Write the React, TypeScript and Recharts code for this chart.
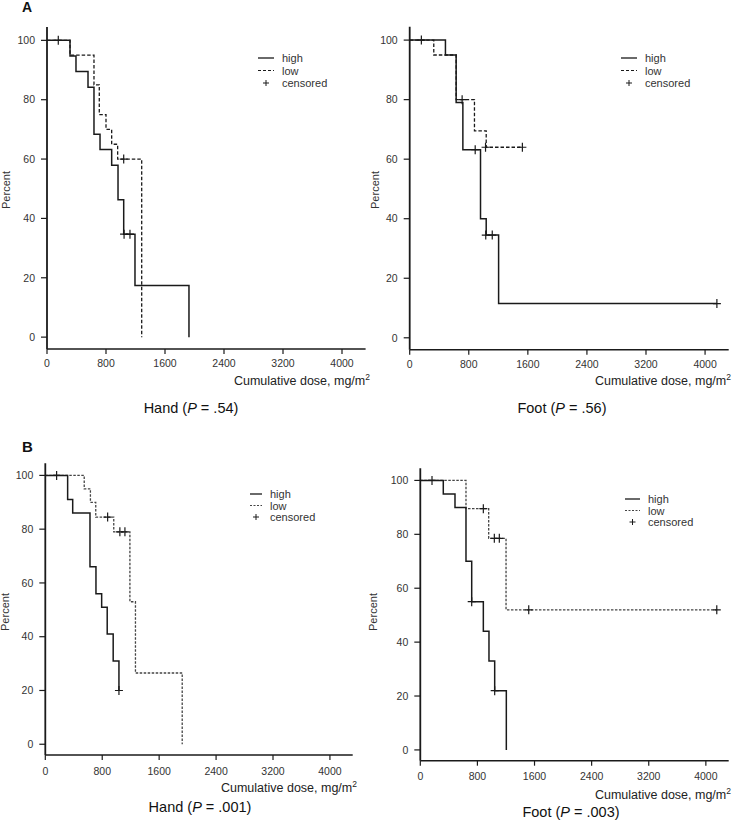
import React from "react";
import { ComposedChart, Line, Scatter, XAxis, YAxis } from "recharts";

// axis ticks shared by all four panels
const doseTicks = [0, 800, 1600, 2400, 3200, 4000];
const pctTicks = [0, 20, 40, 60, 80, 100];

// A, hand
const handAHighDose = [0, 312, 393, 556, 637, 719, 877, 963, 1040, 1193, 1925];
const handAHighPct = [100, 94.7, 89.5, 84.2, 68.4, 63.2, 57.9, 46.3, 34.7, 17.4, 0];
const handAHighCensDose = [153, 1045, 1125];
const handAHighCensPct = [100, 34.7, 34.7];
const handALowDose = [0, 312, 637, 709, 800, 877, 958, 1284];
const handALowPct = [100, 95, 85, 75, 70, 65, 60, 0];
const handALowCensDose = [1040];
const handALowCensPct = [60];

// A, foot
const footAHighDose = [0, 484, 629, 720, 959, 1036, 1204, 4160];
const footAHighPct = [100, 95, 79, 63.2, 40, 34.5, 11.5, 11.5];
const footAHighCensDose = [158, 887, 1030, 1118, 4160];
const footAHighCensPct = [100, 63.2, 34.5, 34.5, 11.5];
const footALowDose = [0, 326, 629, 877, 1036, 1526];
const footALowPct = [100, 95, 80, 69.5, 64, 64];
const footALowCensDose = [710, 1027, 1526];
const footALowCensPct = [80, 64, 64];

// B, hand
const handBHighDose = [0, 314, 385, 628, 712, 792, 870, 954, 1035];
const handBHighPct = [100, 91, 86, 66, 56, 51, 41, 31, 20];
const handBHighCensDose = [159, 1035];
const handBHighCensPct = [100, 20];
const handBLowDose = [0, 547, 634, 709, 962, 1189, 1267, 1924];
const handBLowPct = [100, 95, 90, 84.5, 79, 53, 26.5, 0];
const handBLowCensDose = [876, 1048, 1119];
const handBLowCensPct = [84.5, 79, 79];

// B, foot
const footBHighDose = [0, 322, 486, 640, 720, 883, 962, 1042, 1205];
const footBHighPct = [100, 95, 90, 70, 55, 44, 33, 22, 0];
const footBHighCensDose = [164, 720, 1042];
const footBHighCensPct = [100, 55, 22];
const footBLowDose = [0, 640, 958, 1201, 4153];
const footBLowPct = [100, 89.5, 78.5, 52, 52];
const footBLowCensDose = [883, 1037, 1107, 1519, 4153];
const footBLowCensPct = [89.5, 78.5, 78.5, 52, 52];

type Pt = { x: number; y: number };
const zip = (xs: number[], ys: number[]): Pt[] => xs.map((x, i) => ({ x, y: ys[i] }));

const INK = "#1a1a1a";
const TXT = "#333";

const Cross = (p: any) => (
  <g stroke={INK} strokeWidth={1.2}>
    <line x1={p.cx - 4} x2={p.cx + 4} y1={p.cy} y2={p.cy} />
    <line x1={p.cx} x2={p.cx} y1={p.cy - 4.5} y2={p.cy + 4.5} />
  </g>
);

type PanelProps = {
  box: [number, number, number, number];
  plot: [number, number, number, number];
  high: Pt[];
  low: Pt[];
  highCens: Pt[];
  lowCens: Pt[];
  lowColor: string;
  lowDash: string;
  tickGap: number;
};

function Panel({ box, plot, high, low, highCens, lowCens, lowColor, lowDash, tickGap }: PanelProps) {
  const [L, T, W, H] = box;
  const [px0, py0, px1, py1] = plot;
  const margin = {
    left: px0 - L - 40,
    top: py0 - T,
    right: L + W - px1,
    bottom: T + H - py1 - 30,
  };
  const tick = { fontSize: 10.5, fill: TXT, fontFamily: "Liberation Sans, Arial, sans-serif" };
  return (
    <div style={{ position: "absolute", left: L, top: T }}>
      <ComposedChart width={W} height={H} margin={margin}>
        <XAxis
          type="number"
          dataKey="x"
          domain={[0, 4320]}
          allowDataOverflow
          ticks={doseTicks}
          height={30}
          tick={tick}
          tickSize={5}
          tickMargin={tickGap}
          axisLine={{ stroke: INK, strokeWidth: 1.5 }}
          tickLine={{ stroke: INK, strokeWidth: 1.2 }}
        />
        <YAxis
          type="number"
          dataKey="y"
          domain={[-4, 104.5]}
          allowDataOverflow
          ticks={pctTicks}
          width={40}
          tick={tick}
          tickSize={6}
          tickMargin={6}
          axisLine={{ stroke: INK, strokeWidth: 1.8 }}
          tickLine={{ stroke: INK, strokeWidth: 1.2 }}
        />
        <Line
          data={low}
          type="stepAfter"
          dataKey="y"
          stroke={lowColor}
          strokeWidth={1.3}
          strokeDasharray={lowDash}
          dot={false}
          activeDot={false}
          isAnimationActive={false}
        />
        <Line
          data={high}
          type="stepAfter"
          dataKey="y"
          stroke={INK}
          strokeWidth={1.5}
          dot={false}
          activeDot={false}
          isAnimationActive={false}
        />
        <Scatter data={lowCens} shape={Cross} isAnimationActive={false} />
        <Scatter data={highCens} shape={Cross} isAnimationActive={false} />
      </ComposedChart>
    </div>
  );
}

function Key({ x, y, gap, lineLen, lowColor, lowDash }: { x: number; y: number; gap: number; lineLen: number; lowColor: string; lowDash: string }) {
  const rows = ["high", "low", "censored"];
  return (
    <div style={{ position: "absolute", left: x, top: y - 7 }}>
      <svg width={lineLen + 2} height={40} style={{ position: "absolute", left: 0, top: 0 }}>
        <line x1={0} x2={lineLen} y1={7} y2={7} stroke={INK} strokeWidth={1.3} />
        <line x1={0} x2={lineLen} y1={7 + gap} y2={7 + gap} stroke={lowColor} strokeWidth={1.2} strokeDasharray={lowDash} />
        <g stroke={INK} strokeWidth={1}>
          <line x1={lineLen / 2 - 3} x2={lineLen / 2 + 3} y1={7 + 2 * gap} y2={7 + 2 * gap} />
          <line x1={lineLen / 2} x2={lineLen / 2} y1={4 + 2 * gap} y2={10 + 2 * gap} />
        </g>
      </svg>
      {rows.map((r, i) => (
        <div
          key={r}
          style={{ position: "absolute", left: lineLen + 8, top: i * gap, fontSize: 11, lineHeight: "14px", color: TXT, whiteSpace: "nowrap" }}
        >
          {r}
        </div>
      ))}
    </div>
  );
}

const abs = (left: number, top: number, extra: React.CSSProperties = {}): React.CSSProperties => ({
  position: "absolute",
  left,
  top,
  whiteSpace: "nowrap",
  ...extra,
});

function DoseLabel({ right, y }: { right: number; y: number }) {
  return (
    <div style={{ position: "absolute", right: 732 - right, top: y - 9, fontSize: 12.5, lineHeight: "16px", color: "#222", whiteSpace: "nowrap" }}>
      Cumulative dose, mg/m<sup style={{ fontSize: 8.5, verticalAlign: "5px", lineHeight: 0 }}>2</sup>
    </div>
  );
}

function Title({ cx, y, name, p }: { cx: number; y: number; name: string; p: string }) {
  return (
    <div style={{ position: "absolute", left: cx - 70, width: 140, top: y - 10, textAlign: "center", fontSize: 14.5, lineHeight: "18px", color: "#111", whiteSpace: "nowrap" }}>
      {name} (<i>P</i> = {p})
    </div>
  );
}

function Percent({ x, y }: { x: number; y: number }) {
  return (
    <div style={abs(x - 25, y - 7, { width: 50, textAlign: "center", fontSize: 11, color: TXT, lineHeight: "14px", transform: "rotate(-90deg)" })}>
      Percent
    </div>
  );
}

export default function App() {
  const dashA = "3.5 2";
  const dashB = "2.5 1.5";
  return (
    <div
      style={{
        position: "absolute",
        left: 0,
        top: 0,
        width: 732,
        height: 822,
        background: "#fff",
        overflow: "hidden",
        fontFamily: "Liberation Sans, Arial, sans-serif",
      }}
    >
      <Panel
        box={[0, 0, 366, 385]}
        plot={[47, 27, 365.6, 349]}
        high={zip(handAHighDose, handAHighPct)}
        low={zip(handALowDose, handALowPct)}
        highCens={zip(handAHighCensDose, handAHighCensPct)}
        lowCens={zip(handALowCensDose, handALowCensPct)}
        lowColor={INK}
        lowDash={dashA}
        tickGap={6}
      />
      <Panel
        box={[366, 0, 366, 385]}
        plot={[409.7, 26.7, 728.7, 349.7]}
        high={zip(footAHighDose, footAHighPct)}
        low={zip(footALowDose, footALowPct)}
        highCens={zip(footAHighCensDose, footAHighCensPct)}
        lowCens={zip(footALowCensDose, footALowCensPct)}
        lowColor={INK}
        lowDash={dashA}
        tickGap={6}
      />
      <Panel
        box={[0, 420, 366, 385]}
        plot={[45.3, 463.3, 352.7, 755]}
        high={zip(handBHighDose, handBHighPct)}
        low={zip(handBLowDose, handBLowPct)}
        highCens={zip(handBHighCensDose, handBHighCensPct)}
        lowCens={zip(handBLowCensDose, handBLowCensPct)}
        lowColor="#444"
        lowDash={dashB}
        tickGap={8}
      />
      <Panel
        box={[366, 420, 366, 385]}
        plot={[420.3, 468.3, 728.7, 760.7]}
        high={zip(footBHighDose, footBHighPct)}
        low={zip(footBLowDose, footBLowPct)}
        highCens={zip(footBHighCensDose, footBHighCensPct)}
        lowCens={zip(footBLowCensDose, footBLowCensPct)}
        lowColor="#444"
        lowDash={dashB}
        tickGap={7}
      />

      <Key x={258} y={58} gap={12.5} lineLen={16} lowColor={INK} lowDash="3 2" />
      <Key x={621} y={58} gap={12.5} lineLen={16} lowColor={INK} lowDash="3 2" />
      <Key x={250} y={494} gap={11.5} lineLen={12} lowColor="#444" lowDash="2 1.5" />
      <Key x={625} y={499} gap={11.5} lineLen={15} lowColor="#444" lowDash="2 1.5" />

      <div style={abs(22, 0, { fontSize: 14, lineHeight: "14px", fontWeight: "bold", color: "#111" })}>A</div>
      <div style={abs(22, 438, { fontSize: 15, fontWeight: "bold", color: "#111" })}>B</div>

      <Percent x={6} y={190} />
      <Percent x={375} y={190} />
      <Percent x={5} y={612} />
      <Percent x={373} y={612} />

      <DoseLabel right={370} y={382} />
      <DoseLabel right={731} y={382} />
      <DoseLabel right={357} y={789} />
      <DoseLabel right={731} y={796} />

      <Title cx={191} y={409} name="Hand" p=".54" />
      <Title cx={562} y={409} name="Foot" p=".56" />
      <Title cx={200} y={808} name="Hand" p=".001" />
      <Title cx={571} y={813} name="Foot" p=".003" />
    </div>
  );
}
